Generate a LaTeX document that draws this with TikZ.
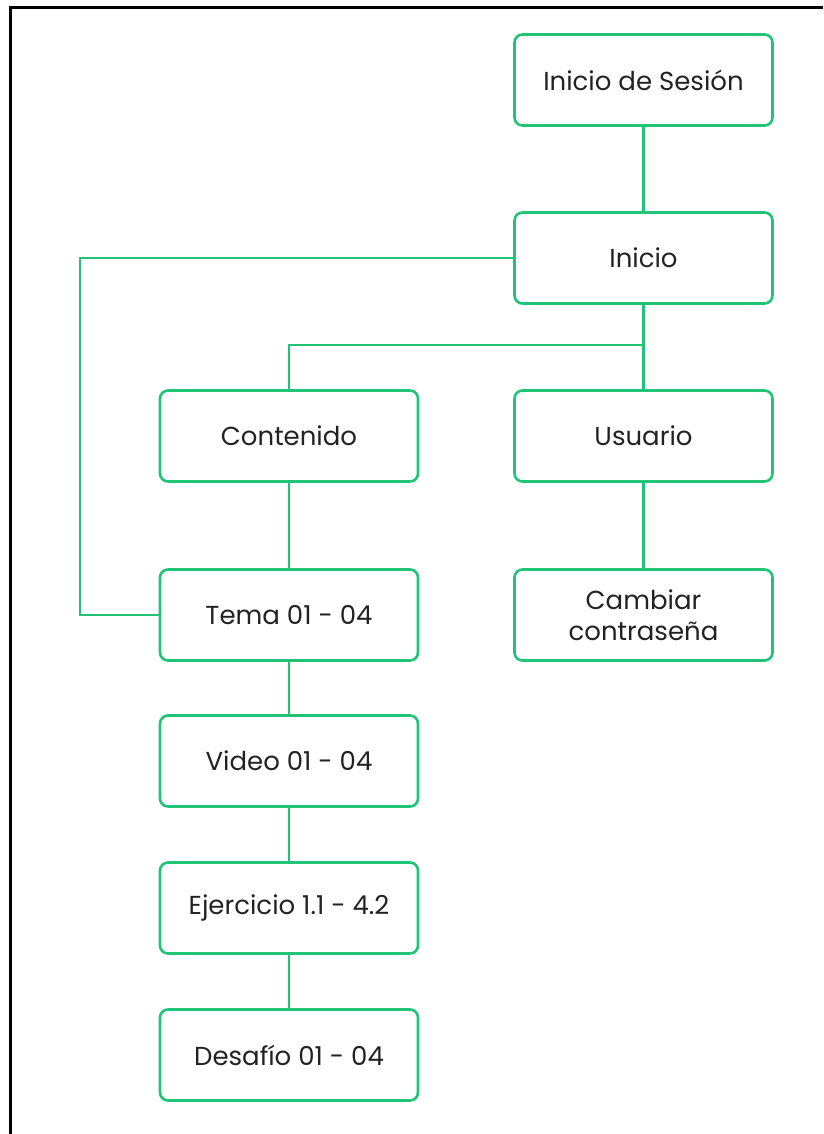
\documentclass[tikz,border=0pt]{standalone}
\usepackage{fontspec}
\setmainfont{Poppins}
\definecolor{gline}{RGB}{32,196,118}
\definecolor{txt}{RGB}{34,34,34}
\begin{document}
\begin{tikzpicture}[x=1pt,y=-1pt,
  box/.style={draw=gline,line width=2.6pt,rounded corners=8pt,minimum width=258pt,minimum height=91pt,
    align=center,text=txt,font=\fontsize{26}{31}\selectfont,inner sep=0pt},
  conn/.style={draw=gline,line width=2.6pt}]
\useasboundingbox (0,0) rectangle (823,1134);
\draw[line width=3pt,black] (10,1134) -- (10,8) -- (823,8);
\node[box] (ses) at (643.5,80) {Inicio de Sesión};
\node[box] (ini) at (643.5,258) {Inicio};
\node[box] (con) at (289,436) {Contenido};
\node[box] (usu) at (643.5,436) {Usuario};
\node[box] (tem) at (289,615) {Tema 01 - 04};
\node[box] (cam) at (643.5,615) {Cambiar\\contraseña};
\node[box] (vid) at (289,761) {Video 01 - 04};
\node[box] (eje) at (289,908) {Ejercicio 1.1 - 4.2};
\node[box] (des) at (289,1055) {Desafío 01 - 04};
\coordinate (br) at (643.5,345);
\coordinate (lf) at (80,258);
\draw[conn] (ses) -- (ini);
\draw[conn] (ini) -- (usu);
\draw[conn] (br) -| (con);
\draw[conn] (ini.west) -- (lf) |- (tem.west);
\draw[conn] (con) -- (tem);
\draw[conn] (usu) -- (cam);
\draw[conn] (tem) -- (vid);
\draw[conn] (vid) -- (eje);
\draw[conn] (eje) -- (des);
\end{tikzpicture}
\end{document}
